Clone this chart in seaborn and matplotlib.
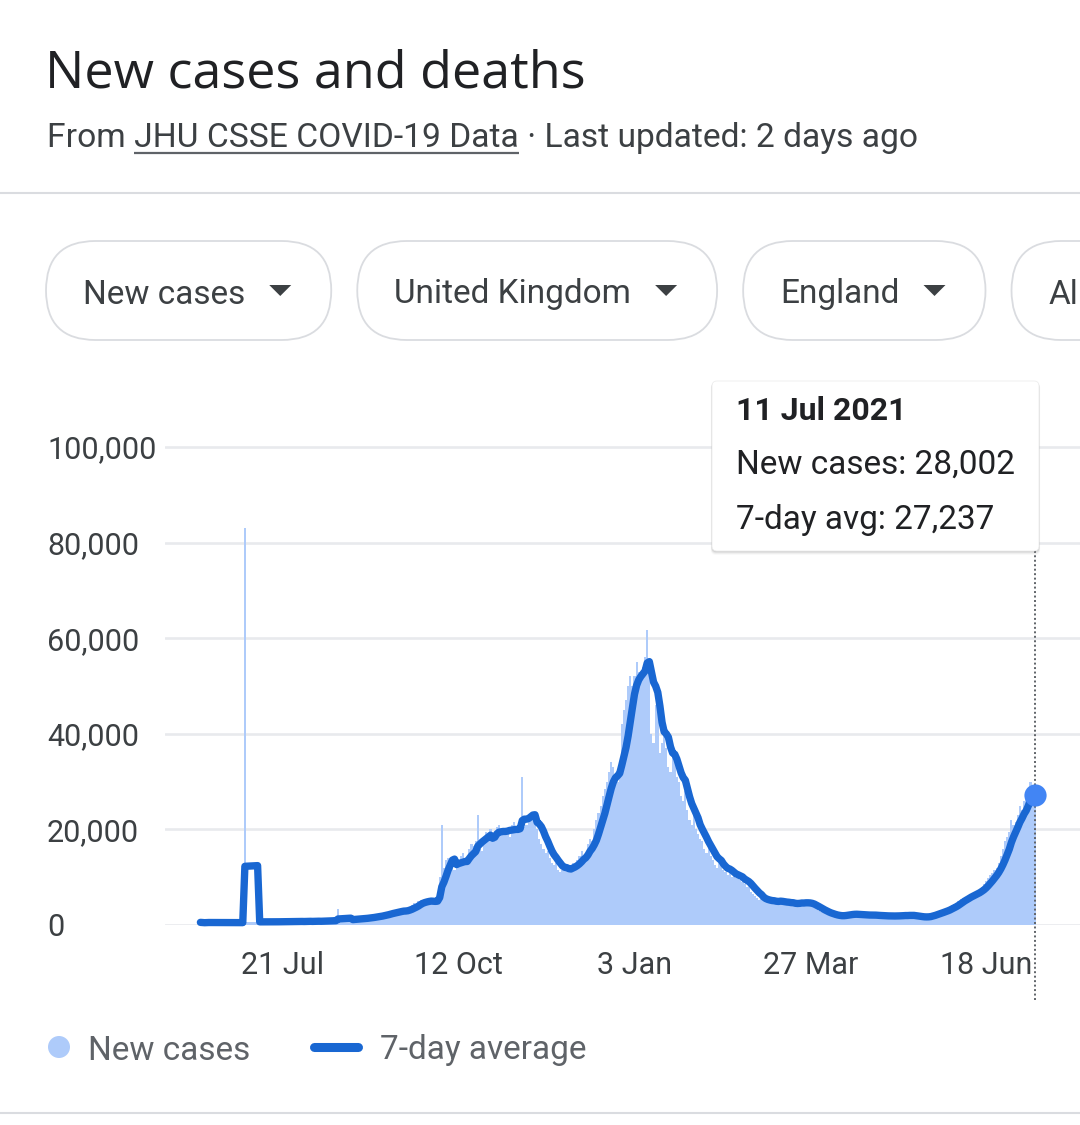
import numpy as np
import pandas as pd
import matplotlib
matplotlib.use("Agg")
import matplotlib.pyplot as plt
import matplotlib.transforms as mtransforms
import seaborn as sns
from matplotlib.patches import FancyBboxPatch, Circle, Polygon

# ---------------- data ----------------
end_date = "2021-07-11"
new_cases = [
    550, 480, 420, 600, 560, 520, 500,
    530, 470, 410, 580, 540, 510, 490,
    520, 460, 400, 570, 530, 500, 480,
    83000, 620, 700, 680, 590, 640, 720,
    660, 610, 690, 740, 650, 600, 710,
    680, 700, 630, 760, 720, 690, 650,
    780, 740, 700, 680, 810, 770, 720,
    690, 830, 800, 760, 700, 860, 820,
    780, 740, 900, 870, 820, 950, 1000,
    900, 880, 3400, 1100, 1000, 1150, 1200,
    1100, 1050, 1300, 1350, 1250, 1400, 1500,
    1350, 1300, 1650, 1700, 1600, 1900, 2000,
    1800, 1750, 2300, 2400, 2200, 2700, 2900,
    2600, 2500, 3000, 3100, 2900, 3300, 3100,
    3000, 3500, 4200, 4600, 4400, 5000, 5200,
    4800, 4700, 5100, 5300, 4900, 4800, 5000,
    5100, 10000, 21000, 12000, 13500, 14000, 12000,
    12500, 11500, 13000, 13500, 14500, 15000, 13000,
    12500, 16000, 17000, 16500, 17500, 23000, 16000,
    15500, 18500, 19500, 19000, 20000, 18500, 17500,
    20500, 21000, 20000, 19500, 20000, 19000, 18500,
    21000, 21500, 20500, 19500, 21000, 31000, 20500,
    21000, 22500, 23000, 22000, 21500, 20000, 18000,
    17000, 16000, 15000, 15500, 14000, 13000, 12500,
    13000, 11500, 11000, 11500, 12000, 12500, 11000,
    12500, 13000, 12500, 13500, 14500, 15500, 14500,
    15000, 17000, 18000, 17500, 20000, 22000, 23500,
    25000, 27000, 28500, 30000, 32000, 34000, 33000,
    31000, 30000, 32000, 42000, 45000, 47000, 50000,
    52000, 50000, 52000, 55000, 53000, 52000, 54000,
    56000, 61700, 54000, 40000, 38000, 46000, 45000,
    36000, 38000, 40000, 37000, 33000, 32000, 36000,
    34000, 31000, 30000, 27000, 26000, 28000, 24000,
    22000, 21000, 23000, 20000, 19000, 18000, 17500,
    16000, 15000, 16500, 14500, 13500, 12500, 12000,
    13000, 12500, 11500, 11000, 10500, 11500, 10000,
    10500, 9800, 10200, 9500, 9000, 8500, 8000,
    8600, 7000, 6500, 6000, 5600, 5300, 5500,
    5000, 4800, 5200, 5100, 4900, 5000, 4800,
    4700, 5200, 4900, 4600, 4400, 4700, 4300,
    4500, 4400, 4600, 4800, 4900, 4700, 4600,
    4500, 4200, 4000, 3700, 3300, 3000, 2800,
    2700, 2500, 2400, 2200, 2000, 1900, 1800,
    1850, 1900, 2000, 2200, 2300, 2400, 2300,
    2250, 2200, 2100, 2000, 2100, 2200, 2150,
    2050, 2000, 2100, 2000, 1950, 1900, 2000,
    1850, 1900, 1950, 1800, 1900, 1950, 1850,
    2000, 1900, 2050, 2000, 2100, 1950, 2050,
    2000, 1900, 1700, 1500, 1600, 1550, 1700,
    1900, 2000, 2100, 2300, 2500, 2600, 2800,
    3000, 3100, 3200, 3500, 3800, 4200, 4400,
    4600, 5000, 5400, 5700, 5900, 6000, 6300,
    6500, 6600, 7000, 7200, 7600, 8000, 8500,
    9200, 9800, 10500, 10800, 11500, 12000, 13000,
    14500, 16000, 17500, 18500, 19500, 22000, 21000,
    21500, 23000, 25000, 24157, 26000, 27000, 28000,
    30000, 27500, 28002,
]
tick_dates = ["2020-07-21", "2020-10-12", "2021-01-03", "2021-03-27", "2021-06-18"]
tick_labels = ["21 Jul", "12 Oct", "3 Jan", "27 Mar", "18 Jun"]
y_ticks = [0, 20000, 40000, 60000, 80000, 100000]
y_tick_labels = ["0", "20,000", "40,000", "60,000", "80,000", "100,000"]
title = "New cases and deaths"
source_prefix = "From"
source_link = "JHU CSSE COVID-19 Data"
source_suffix = " · Last updated: 2 days ago"
buttons = ["New cases", "United Kingdom", "England", "All"]
legend_labels = ["New cases", "7-day average"]
tooltip_date = "11 Jul 2021"

# ---------------- style ----------------
sns.set_style("white")
plt.rcParams["font.family"] = ["Roboto", "DejaVu Sans"]

BAR_C = "#aecbfa"
LINE_C = "#1967d2"
DOT_C = "#4285f4"
TXT = "#3c4043"
DARK = "#202124"
GRID = "#e8eaed"
BORDER = "#dadce0"

dates = pd.date_range(end=end_date, periods=len(new_cases), freq="D")
df = pd.DataFrame({"date": dates, "cases": new_cases})
df["avg"] = df["cases"].rolling(7, min_periods=1).mean()

W, H = 1080, 1125
fig = plt.figure(figsize=(W / 100, H / 100), dpi=100)
fig.patch.set_facecolor("white")

# ---------------- chart axes ----------------
ax_l, ax_r = 165, 1080
ax_b, ax_t = 925, 399.2
ax = fig.add_axes([ax_l / W, (H - ax_b) / H, (ax_r - ax_l) / W, (ax_b - ax_t) / H])
ax.set_facecolor("none")

t_first = pd.Timestamp(tick_dates[0])
t_last = pd.Timestamp(tick_dates[-1])
ppd = (986 - 283) / (t_last - t_first).days
ax.set_xlim(t_first - pd.Timedelta(days=(283 - ax_l) / ppd),
            t_last + pd.Timedelta(days=(ax_r - 986) / ppd))
ax.set_ylim(0, (ax_b - ax_t) / 4.78 * 1000)

ax.bar(df["date"], df["cases"], width=1.0, color=BAR_C, linewidth=0, zorder=2)
sns.lineplot(data=df, x="date", y="avg", ax=ax, color=LINE_C, linewidth=5.3,
             zorder=3, legend=False)
for ln in ax.lines:
    ln.set_solid_capstyle("round")
    ln.set_solid_joinstyle("round")
    ln.set_clip_on(False)

# hover guide + end marker
trans = mtransforms.blended_transform_factory(ax.transData, ax.transAxes)
last_date = df["date"].iloc[-1]
ax.plot([last_date, last_date], [(ax_b - 1000) / (ax_b - ax_t), (ax_b - 551) / (ax_b - ax_t)],
        transform=trans, color="#5f6368", lw=1.4, ls=(0, (1, 1.3)), clip_on=False, zorder=4)
ax.plot([last_date], [df["avg"].iloc[-1]], "o", ms=16, color=DOT_C, zorder=5, clip_on=False,
        markeredgewidth=0)

ax.set_yticks(y_ticks)
ax.set_yticklabels(y_tick_labels)
ax.set_xticks(pd.to_datetime(tick_dates))
ax.set_xticklabels(tick_labels)
ax.set_axisbelow(True)
ax.grid(axis="y", color=GRID, lw=1.9)
ax.grid(axis="x", visible=False)
for s in ax.spines.values():
    s.set_visible(False)
ax.tick_params(axis="y", length=0, pad=(ax_l - 47) * 0.72, labelsize=22, labelcolor=TXT)
for lbl in ax.get_yticklabels():
    lbl.set_horizontalalignment("left")
ax.tick_params(axis="x", length=11, width=2, color="#e3e3e3", direction="out", pad=8,
               labelsize=22, labelcolor=TXT)
ax.set_xlabel("")
ax.set_ylabel("")

# ---------------- overlay (pixel coords) ----------------
ov = fig.add_axes([0, 0, 1, 1], zorder=10)
ov.set_xlim(0, W)
ov.set_ylim(H, 0)
ov.axis("off")
ov.patch.set_alpha(0)
r = fig.canvas.get_renderer()

def text_right(t):
    return t.get_window_extent(r).x1

ov.text(45, 88, title, fontsize=37.5, family=["Open Sans", "DejaVu Sans"], color=DARK,
        va="baseline", ha="left")

full_src = source_prefix + " " + source_link
t_full = ov.text(47, 147, full_src, fontsize=24.2, color=TXT, va="baseline", ha="left")
t_link = ov.text(0, -100, source_link, fontsize=24.2, color=TXT, va="baseline", ha="left")
x_end = text_right(t_full)
w_link = t_link.get_window_extent(r).width
t_link.remove()
ov.plot([x_end - w_link, x_end], [153, 153], color="#5f6368", lw=1.6, solid_capstyle="butt")
ov.text(x_end, 147, source_suffix, fontsize=24.2, color=TXT, va="baseline", ha="left")

ov.plot([0, W], [193, 193], color=BORDER, lw=1.5)

# filter buttons
bx = 46
for lab in buttons:
    t = ov.text(bx + 37, 291, lab, fontsize=24, color=TXT, va="center_baseline", ha="left")
    te = text_right(t)
    a0 = te + 24
    ov.add_patch(Polygon([[a0, 285], [a0 + 22, 285], [a0 + 11, 296]], closed=True,
                         color=TXT, lw=0))
    br = a0 + 22 + 40
    ov.add_patch(FancyBboxPatch((bx, 241), br - bx, 99,
                                boxstyle="round,pad=0,rounding_size=49.5",
                                fc="white", ec=BORDER, lw=1.3, zorder=0))
    bx = br + 26

# tooltip
for off, a in [(1, 0.08), (2, 0.06), (3, 0.04), (4, 0.025)]:
    ov.add_patch(FancyBboxPatch((712 - off * 0.3, 381 + off * 0.6), 327 + off * 0.6, 170 + off * 0.4,
                                boxstyle="round,pad=0,rounding_size=5", fc="black",
                                alpha=a, lw=0))
ov.add_patch(FancyBboxPatch((712, 381), 327, 170, boxstyle="round,pad=0,rounding_size=5",
                            fc="white", ec="#eeeeee", lw=0.6))
ov.text(736, 408, tooltip_date, fontsize=23, fontweight="bold", color=DARK,
        va="center_baseline", ha="left")
ov.text(736, 461, f"New cases: {new_cases[-1]:,}", fontsize=24, color=DARK,
        va="center_baseline", ha="left")
ov.text(736, 517, f"7-day avg: {int(round(df['avg'].iloc[-1])):,}", fontsize=24, color=DARK,
        va="center_baseline", ha="left")

# legend
ov.add_patch(Circle((59, 1047), 11, color=BAR_C, lw=0))
ov.text(88, 1047, legend_labels[0], fontsize=24, color="#5f6368", va="center_baseline", ha="left")
ov.plot([314, 358], [1047, 1047], color=LINE_C, lw=6.5, solid_capstyle="round")
ov.text(380, 1047, legend_labels[1], fontsize=24, color="#5f6368", va="center_baseline", ha="left")

ov.plot([0, W], [1113, 1113], color=BORDER, lw=1.5)

fig.savefig("out.png", dpi=100, facecolor="white")
